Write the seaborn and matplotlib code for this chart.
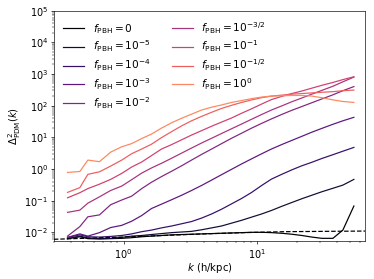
import numpy as np
import pandas as pd
import seaborn as sns
import matplotlib.pyplot as plt

# wavenumbers of the measured bins (h/kpc)
k = [0.38, 0.47, 0.54, 0.66, 0.80, 0.97, 1.15, 1.37, 1.62, 1.93, 2.30, 2.73, 3.24,
     3.86, 4.59, 5.45, 6.48, 7.71, 9.16, 10.9, 12.9, 15.4, 18.3, 21.8, 25.9, 30.8,
     37.3, 44.3, 53.6]

# log10 of Delta^2_PDM(k), one list per f_PBH
logd2_f0 = [-2.20, -2.14, -2.20, -2.21, -2.20, -2.19, -2.17, -2.14, -2.12, -2.10, -2.08,
            -2.07, -2.06, -2.05, -2.04, -2.03, -2.02, -2.01, -2.00, -2.00, -2.01, -2.03,
            -2.06, -2.10, -2.15, -2.19, -2.19, -1.93, -1.17]
logd2_m5 = [-2.20, -2.12, -2.18, -2.20, -2.19, -2.16, -2.12, -2.10, -2.07, -2.04, -2.01,
            -1.99, -1.97, -1.92, -1.86, -1.80, -1.71, -1.62, -1.52, -1.42, -1.31, -1.18,
            -1.06, -0.94, -0.83, -0.72, -0.61, -0.51, -0.33]
logd2_m4 = [-2.16, -2.08, -2.14, -2.15, -2.13, -2.10, -2.05, -1.98, -1.93, -1.86, -1.80,
            -1.73, -1.66, -1.55, -1.42, -1.27, -1.10, -0.93, -0.74, -0.52, -0.32, -0.17,
            -0.03, 0.10, 0.21, 0.33, 0.45, 0.56, 0.68]
logd2_m3 = [-2.16, -2.05, -2.12, -2.01, -1.85, -1.78, -1.65, -1.47, -1.25, -1.11, -0.97,
            -0.83, -0.68, -0.52, -0.35, -0.18, -0.01, 0.16, 0.32, 0.48, 0.63, 0.77,
            0.90, 1.03, 1.16, 1.28, 1.41, 1.52, 1.63]
logd2_m2 = [-2.12, -1.82, -1.51, -1.45, -1.13, -0.98, -0.86, -0.62, -0.42, -0.24, -0.07,
            0.10, 0.28, 0.46, 0.63, 0.80, 0.97, 1.13, 1.29, 1.44, 1.58, 1.72,
            1.85, 1.97, 2.09, 2.21, 2.34, 2.47, 2.60]
logd2_m15 = [-1.37, -1.30, -1.08, -0.88, -0.68, -0.54, -0.34, -0.13, 0.03, 0.18, 0.34,
             0.50, 0.66, 0.82, 0.97, 1.12, 1.27, 1.42, 1.57, 1.72, 1.86, 1.99,
             2.12, 2.24, 2.36, 2.48, 2.61, 2.75, 2.90]
logd2_m1 = [-0.91, -0.75, -0.62, -0.48, -0.33, -0.14, 0.06, 0.22, 0.42, 0.63, 0.77,
            0.92, 1.07, 1.21, 1.35, 1.48, 1.61, 1.76, 1.90, 2.05, 2.19, 2.29,
            2.38, 2.46, 2.55, 2.64, 2.73, 2.82, 2.91]
logd2_m05 = [-0.74, -0.59, -0.17, -0.09, 0.09, 0.28, 0.48, 0.63, 0.78, 0.99, 1.18,
             1.36, 1.52, 1.66, 1.79, 1.91, 2.01, 2.10, 2.18, 2.25, 2.30, 2.33,
             2.36, 2.38, 2.40, 2.42, 2.44, 2.47, 2.49]
logd2_p0 = [-0.11, -0.08, 0.28, 0.23, 0.53, 0.70, 0.80, 0.96, 1.10, 1.29, 1.46,
            1.60, 1.73, 1.86, 1.95, 2.02, 2.10, 2.16, 2.22, 2.27, 2.30, 2.31,
            2.32, 2.32, 2.30, 2.25, 2.18, 2.13, 2.10]

labels = [r"$f_{\rm PBH}=0$", r"$f_{\rm PBH}=10^{-5}$", r"$f_{\rm PBH}=10^{-4}$",
          r"$f_{\rm PBH}=10^{-3}$", r"$f_{\rm PBH}=10^{-2}$", r"$f_{\rm PBH}=10^{-3/2}$",
          r"$f_{\rm PBH}=10^{-1}$", r"$f_{\rm PBH}=10^{-1/2}$", r"$f_{\rm PBH}=10^{0}$"]
series = [logd2_f0, logd2_m5, logd2_m4, logd2_m3, logd2_m2, logd2_m15, logd2_m1,
          logd2_m05, logd2_p0]

# dashed reference curve
k_ref = [0.3, 0.5, 1.0, 2.0, 4.0, 8.0, 16.0, 32.0, 65.0]
logd2_ref = [-2.22, -2.19, -2.15, -2.10, -2.05, -2.01, -1.98, -1.97, -1.96]

frames = []
for lab, vals in zip(labels, series):
    frames.append(pd.DataFrame({"k": k, "D2": 10.0 ** np.array(vals), "f": lab}))
df = pd.concat(frames, ignore_index=True)
ref = pd.DataFrame({"k": k_ref, "D2": 10.0 ** np.array(logd2_ref)})

cmap = sns.color_palette("magma", as_cmap=True)
colors = [cmap(v) for v in np.linspace(0, 0.75, 9)]

plt.rcParams["xtick.labelsize"] = 12
plt.rcParams["ytick.labelsize"] = 12
plt.rcParams["axes.labelsize"] = 12.5

# drawn at the default 6.4 in width, shrunk to ~374 px
fig = plt.figure(figsize=(6.4, 4.775), dpi=58.44)
ax = fig.add_axes([0.144, 0.136, 0.832, 0.826])

sns.lineplot(data=df, x="k", y="D2", hue="f", palette=colors, estimator=None,
             linewidth=1.5, ax=ax)
sns.lineplot(data=ref, x="k", y="D2", color="black", linestyle="--", linewidth=1.5,
             ax=ax)

ax.set_xscale("log")
ax.set_yscale("log")
ax.set_xlim(0.3, 65)
ax.set_ylim(5.3e-3, 1e5)
ax.set_xlabel(r"$k$ (h/kpc)", labelpad=1)
ax.set_ylabel(r"$\Delta^2_{\rm PDM}(k)$", labelpad=2)

handles, labs = ax.get_legend_handles_labels()
ax.legend(handles[:9], labs[:9], ncol=2, frameon=False, loc="upper left",
          fontsize=13, labelspacing=0.3)

fig.savefig("out.png", dpi=58.44)
